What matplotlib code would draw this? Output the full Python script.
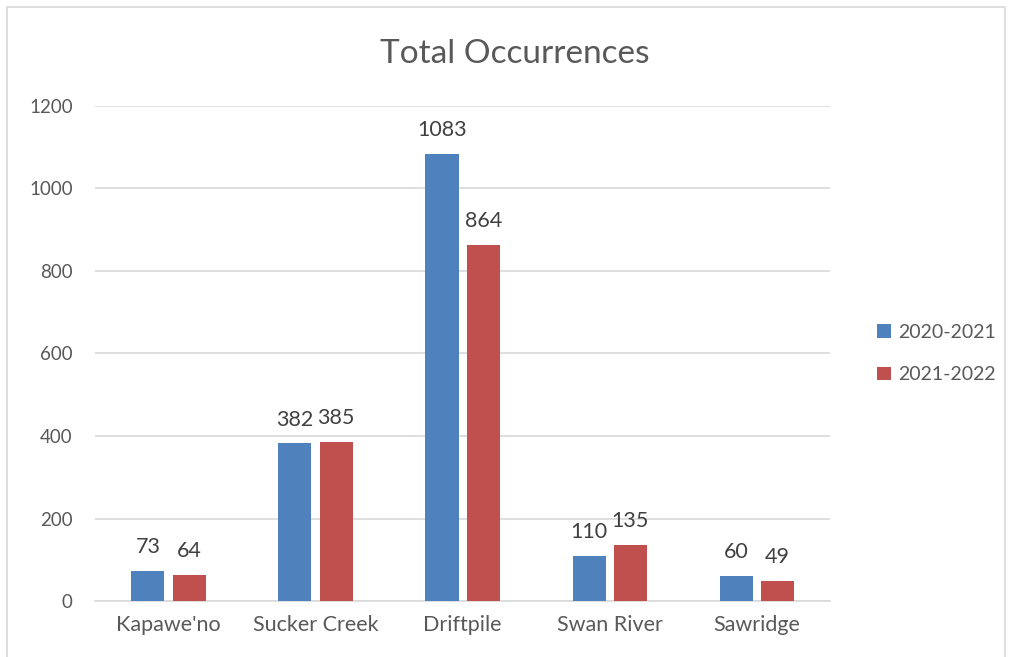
import matplotlib.pyplot as plt
import numpy as np
from matplotlib.patches import Rectangle

# Chart data
categories = ["Kapawe'no", "Sucker Creek", "Driftpile", "Swan River", "Sawridge"]
series_2021 = [73, 382, 1083, 110, 60]
series_2022 = [64, 385, 864, 135, 49]
series_names = ["2020-2021", "2021-2022"]
y_ticks = [0, 200, 400, 600, 800, 1000, 1200]

plt.rcParams['font.family'] = ['Lato', 'DejaVu Sans']
text_color = '#595959'

fig = plt.figure(figsize=(10.1, 6.57), dpi=100)
ax = fig.add_axes([0.094, 0.0852, 0.728, 0.7535])

# outer chart border
fig.patches.append(Rectangle((7 / 1010, -0.05), 998 / 1010, 1.05 - 7 / 657,
                             transform=fig.transFigure, fill=False,
                             edgecolor='#d9d9d9', linewidth=1.2))

x = np.arange(len(categories))
w = 0.225
gap = 0.055
b1 = ax.bar(x - (w + gap) / 2, series_2021, w, color='#4f81bd', label=series_names[0], zorder=3)
b2 = ax.bar(x + (w + gap) / 2, series_2022, w, color='#c0504d', label=series_names[1], zorder=3)

for bars in (b1, b2):
    ax.bar_label(bars, padding=10, fontsize=15.5, color='#404040')

ax.set_xlim(-0.5, len(categories) - 0.5)
ax.set_ylim(0, 1200)
ax.set_yticks(y_ticks)
ax.set_xticks(x)
ax.set_xticklabels(categories)
ax.tick_params(axis='both', length=0, labelcolor=text_color)
ax.tick_params(axis='x', labelsize=15.5, pad=10)
ax.tick_params(axis='y', labelsize=13.5, pad=16)
ax.grid(axis='y', color='#d9d9d9', linewidth=1.2, zorder=0)
for s in ['top', 'right', 'left']:
    ax.spines[s].set_visible(False)
ax.spines['bottom'].set_color('#d9d9d9')
ax.spines['bottom'].set_linewidth(1.2)

fig.text(0.51, 0.918, "Total Occurrences", ha='center', va='center', fontsize=24, color=text_color)

ax.legend(loc='center left', bbox_to_anchor=(1.04, 0.5), frameon=False, fontsize=14,
          labelcolor=text_color, handlelength=0.7, handleheight=0.7, handletextpad=0.4,
          labelspacing=1.3)

fig.savefig('out.png', dpi=100)
